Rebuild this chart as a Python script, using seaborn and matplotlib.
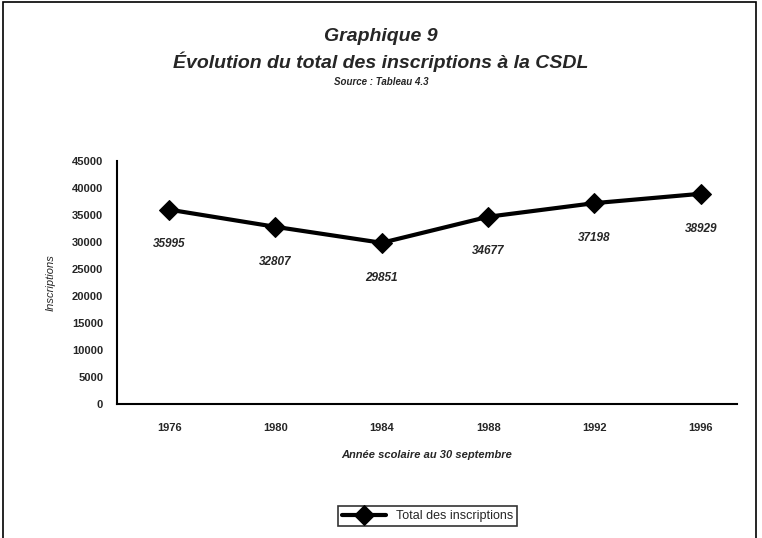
import numpy as np
import pandas as pd
import matplotlib
matplotlib.use("Agg")
import matplotlib.pyplot as plt
import seaborn as sns
from matplotlib.patches import Rectangle

years = ["1976", "1980", "1984", "1988", "1992", "1996"]
totals = [35995, 32807, 29851, 34677, 37198, 38929]
y_ticks = [0, 5000, 10000, 15000, 20000, 25000, 30000, 35000, 40000, 45000]

sns.set_style("white")
plt.rcParams["font.family"] = ["Liberation Sans", "DejaVu Sans"]

df = pd.DataFrame({"annee": years, "total": totals})
df["pos"] = np.arange(len(years))

fig = plt.figure(figsize=(7.62, 5.38), dpi=100)
fig.patches.append(Rectangle((3 / 762, -0.1), 753 / 762, 1.096,
                             transform=fig.transFigure, fill=False,
                             edgecolor="black", linewidth=1.2))
ax = fig.add_axes([117 / 762, 1 - 404 / 538, 620 / 762, 243 / 538])

sns.lineplot(data=df, x="pos", y="total", ax=ax, color="black",
             linewidth=3, marker="D", markersize=10,
             markeredgecolor="black", label="Total des inscriptions",
             legend=False)

# étiquettes de données sous chaque point
for p, v in zip(df["pos"], df["total"]):
    ax.annotate(str(v), (p, v), xytext=(0, -25), textcoords="offset points",
                ha="center", va="center", fontsize=8.5, fontweight="bold",
                fontstyle="italic")

ax.set_yticks(y_ticks)
ax.set_yticklabels([str(t) for t in y_ticks], fontsize=8, fontweight="bold")
ax.set_xticks(df["pos"])
ax.set_xticklabels(years, fontsize=8, fontweight="bold")
ax.set_xticks(np.arange(-0.5, 5.0, 1), minor=True)
ax.set_xlim(-0.49, 5.34)
ax.set_ylim(0, 45000)
ax.tick_params(axis="x", which="major", length=0, pad=14)
ax.tick_params(axis="x", which="minor", length=4, direction="out")
ax.tick_params(axis="y", length=4, direction="out", pad=6)
for s in ["top", "right"]:
    ax.spines[s].set_visible(False)
for s in ["left", "bottom"]:
    ax.spines[s].set_linewidth(1.5)
    ax.spines[s].set_color("black")

ax.set_xlabel("Année scolaire au 30 septembre", fontsize=8,
              fontweight="bold", fontstyle="italic", labelpad=12)
ax.set_ylabel("Inscriptions", fontsize=8, fontstyle="italic", labelpad=12)

fig.text(0.5, 1 - 37 / 538, "Graphique 9", ha="center", va="center",
         fontsize=14, fontweight="bold", fontstyle="italic")
fig.text(0.5, 1 - 62 / 538, "Évolution du total des inscriptions à la CSDL",
         ha="center", va="center", fontsize=14, fontweight="bold",
         fontstyle="italic")
fig.text(0.5, 1 - 82 / 538, "Source : Tableau 4.3", ha="center",
         va="center", fontsize=7, fontweight="bold", fontstyle="italic")

leg = fig.legend(loc="center", bbox_to_anchor=(0.561, 1 - 516 / 538),
                 fontsize=9, frameon=True, fancybox=False, handlelength=3.5,
                 borderpad=0.3)
leg.get_frame().set_edgecolor("black")
leg.get_frame().set_linewidth(1.2)

fig.savefig("out.png", dpi=100)
